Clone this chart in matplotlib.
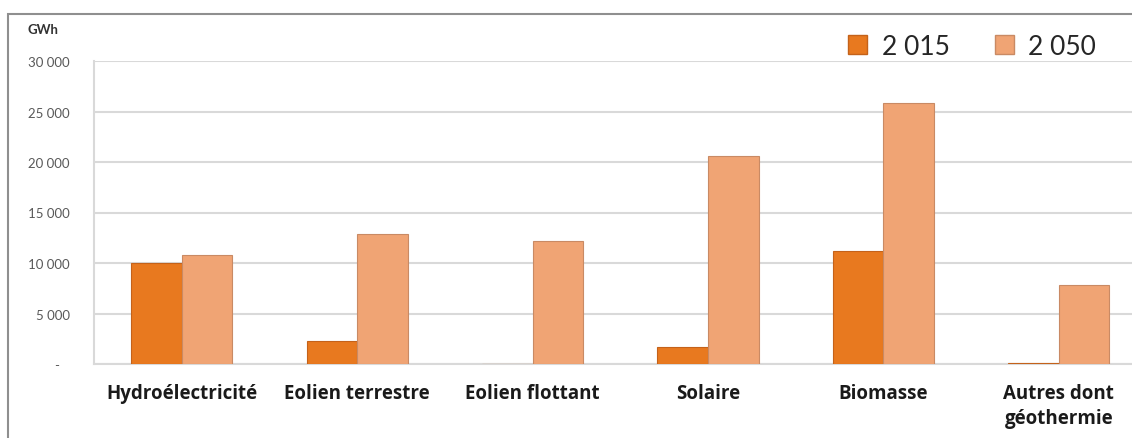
import numpy as np
import matplotlib
matplotlib.use("Agg")
import matplotlib.pyplot as plt
from matplotlib.patches import Patch, Rectangle

categories = ["Hydroélectricité", "Eolien terrestre", "Eolien flottant",
              "Solaire", "Biomasse", "Autres dont\ngéothermie"]
values_2015 = [10000, 2300, 0, 1700, 11200, 100]
values_2050 = [10800, 12900, 12200, 20600, 25800, 7800]
series_labels = ["2 015", "2 050"]
yticks = [0, 5000, 10000, 15000, 20000, 25000, 30000]

plt.rcParams['font.family'] = ['Lato', 'DejaVu Sans']

c2015 = '#e8791f'
c2050 = '#f0a474'

fig = plt.figure(figsize=(11.32, 4.39), dpi=100)
W, H = 1132, 439

# outer frame of the picture
fig.patches.append(Rectangle((8 / W, -0.1), 1.2, 1 - 15 / H + 0.1, transform=fig.transFigure,
                             fill=False, edgecolor='#8f8f8f', lw=1.5))

ax = fig.add_axes([94 / W, (H - 365) / H, (1146.6 - 94) / W, (365 - 62) / H])
x = np.arange(len(categories))
w = 0.288
ax.bar(x - w / 2, values_2015, w, color=c2015, edgecolor='#c4621a', lw=0.8, zorder=3)
ax.bar(x + w / 2, values_2050, w, color=c2050, edgecolor='#c98a64', lw=0.8, zorder=3)

ax.set_xlim(-0.5, len(categories) - 0.5)
ax.set_ylim(0, 30000)
ax.set_yticks(yticks)
ax.set_yticklabels([f"{v:,}".replace(",", " ") if v else "-   " for v in yticks],
                   fontsize=9.5, color='#595959')
ax.yaxis.grid(True, color='#d9d9d9', lw=1.5, zorder=0)
ax.set_xticks(x)
ax.set_xticklabels(categories, fontsize=13.5, fontweight='bold', color='#1a1a1a',
                   va='top', linespacing=1.3, family=['Open Sans', 'DejaVu Sans'])
ax.tick_params(axis='both', length=0)
ax.tick_params(axis='y', pad=17.3)
ax.tick_params(axis='x', pad=14)
for s in ['top', 'right']:
    ax.spines[s].set_visible(False)
for s in ['left', 'bottom']:
    ax.spines[s].set_color('#d9d9d9')
    ax.spines[s].set_linewidth(1.5)

fig.text(28 / W, 1 - 30 / H, "GWh", fontsize=9.5, fontweight='bold', color='#333333', va='center')

handles = [Patch(facecolor=c2015, edgecolor='#c4621a'), Patch(facecolor=c2050, edgecolor='#c98a64')]
fig.legend(handles, series_labels, loc='upper right', bbox_to_anchor=(1096 / W, 1 - 35 / H),
           ncol=2, frameon=False, fontsize=19, handlelength=0.72, handleheight=0.72,
           handletextpad=0.55, columnspacing=1.7, borderpad=0, borderaxespad=0,
           labelcolor='#262626')

fig.savefig("out.png", dpi=100)
